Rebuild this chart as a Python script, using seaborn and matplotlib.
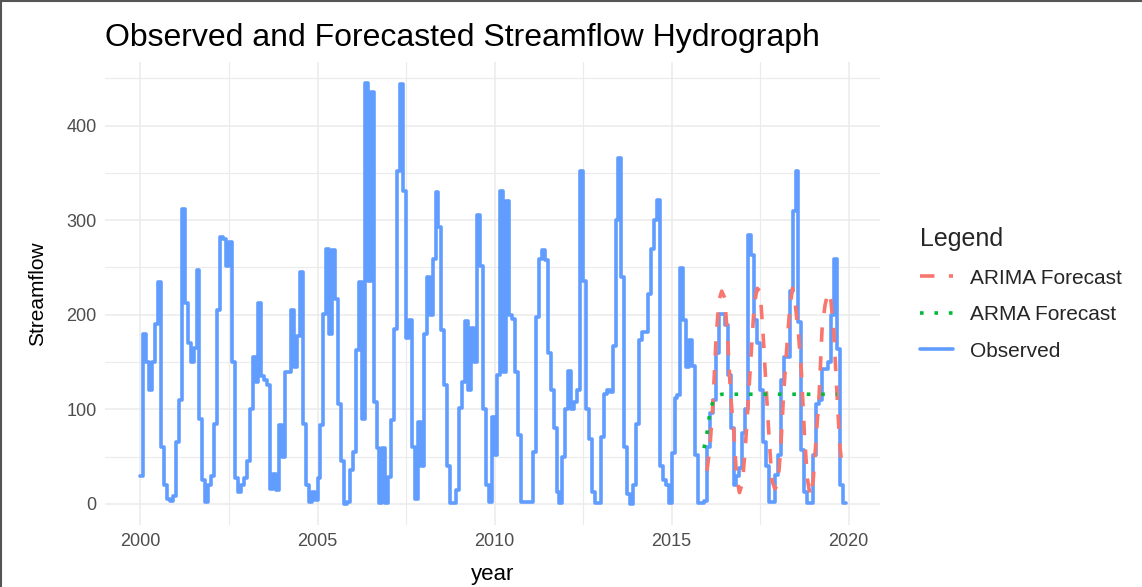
import numpy as np
import pandas as pd
import seaborn as sns
import matplotlib
matplotlib.use('Agg')
import matplotlib.pyplot as plt
from matplotlib.lines import Line2D
from matplotlib.ticker import MultipleLocator

# monthly observed streamflow, Jan 2000 .. Dec 2019
obs_2000 = [30, 180, 150, 120, 150, 190, 235, 60, 20, 5, 3, 8]
obs_2001 = [66, 110, 312, 212, 170, 150, 165, 247, 90, 25, 2, 20]
obs_2002 = [30, 85, 205, 282, 280, 252, 277, 150, 27, 13, 20, 27]
obs_2003 = [45, 100, 155, 129, 212, 135, 131, 126, 16, 32, 15, 83]
obs_2004 = [50, 140, 140, 205, 145, 178, 245, 85, 20, 2, 13, 4]
obs_2005 = [27, 83, 201, 270, 180, 268, 217, 106, 45, 0, 2, 36]
obs_2006 = [55, 163, 235, 90, 445, 236, 435, 108, 59, 1, 59, 1]
obs_2007 = [29, 89, 185, 352, 444, 331, 175, 194, 60, 5, 87, 40]
obs_2008 = [180, 240, 200, 259, 330, 293, 184, 126, 40, 1, 1, 15]
obs_2009 = [101, 129, 193, 120, 186, 150, 305, 252, 100, 20, 2, 92]
obs_2010 = [52, 136, 331, 140, 320, 200, 196, 140, 73, 2, 2, 2]
obs_2011 = [2, 55, 198, 259, 268, 258, 160, 120, 80, 13, 1, 50]
obs_2012 = [100, 141, 100, 108, 120, 352, 236, 100, 69, 13, 1, 1]
obs_2013 = [71, 116, 120, 118, 167, 300, 366, 240, 60, 11, 0, 20]
obs_2014 = [85, 173, 182, 182, 222, 270, 300, 321, 40, 25, 20, 1]
obs_2015 = [54, 112, 115, 249, 194, 145, 173, 146, 52, 1, 1, 3]
obs_2016 = [60, 96, 110, 160, 201, 201, 189, 136, 80, 20, 30, 38]
obs_2017 = [75, 100, 284, 263, 194, 170, 120, 66, 40, 2, 2, 31]
obs_2018 = [52, 131, 155, 155, 225, 310, 352, 192, 57, 13, 1, 1]
obs_2019 = [52, 106, 110, 143, 143, 150, 200, 259, 164, 20, 1, 1]

observed = (obs_2000 + obs_2001 + obs_2002 + obs_2003 + obs_2004 + obs_2005
            + obs_2006 + obs_2007 + obs_2008 + obs_2009 + obs_2010 + obs_2011
            + obs_2012 + obs_2013 + obs_2014 + obs_2015 + obs_2016 + obs_2017
            + obs_2018 + obs_2019)

# ARIMA forecast from Jan 2016
arima = [35, 60, 105, 170, 215, 225, 218, 175, 115, 80, 30, 12,
         22, 60, 110, 160, 210, 228, 225, 180, 125, 73, 25, 16,
         20, 59, 118, 163, 205, 228, 209, 180, 140, 75, 27, 8,
         25, 70, 115, 185, 210, 224, 215, 180, 120, 62, 35]
arima_start = 2016.0

# ARMA forecast from Dec 2015
arma = [59, 75, 97, 108, 113, 115, 116, 116, 116, 116, 116, 116,
        116, 116, 116, 116, 116, 116, 116, 116, 116, 116, 116, 116,
        116, 116, 116, 116, 116, 116, 116, 116, 116, 116, 116, 116,
        116, 116, 116, 116, 116, 116, 116, 116, 116, 116]
arma_start = 2015 + 11 / 12

df_obs = pd.DataFrame({'year': 2000 + np.arange(len(observed)) / 12, 'flow': observed})
df_arima = pd.DataFrame({'year': arima_start + np.arange(len(arima)) / 12, 'flow': arima})
df_arma = pd.DataFrame({'year': arma_start + np.arange(len(arma)) / 12, 'flow': arma})

c_obs = '#619CFF'
c_arima = '#F8766D'
c_arma = '#00BA38'
lw = 2.6

sns.set_theme(style='whitegrid')
plt.rcParams['font.family'] = ['Liberation Sans', 'DejaVu Sans']

fig = plt.figure(figsize=(11.42, 5.87), dpi=100)
ax = fig.add_axes([0.092, 0.106, 0.679, 0.788])

sns.lineplot(data=df_obs, x='year', y='flow', color=c_obs, linewidth=lw,
             drawstyle='steps-post', ax=ax)
sns.lineplot(data=df_arima, x='year', y='flow', color=c_arima, linewidth=lw,
             ax=ax).lines[-1].set_dashes((4, 4))
sns.lineplot(data=df_arma, x='year', y='flow', color=c_arma, linewidth=lw,
             ax=ax).lines[-1].set_dashes((1, 3))

ax.set_xlim(1999.0, 2020.9)
ax.set_ylim(-22, 467)
ax.xaxis.set_major_locator(MultipleLocator(5))
ax.xaxis.set_minor_locator(MultipleLocator(2.5))
ax.yaxis.set_major_locator(MultipleLocator(100))
ax.yaxis.set_minor_locator(MultipleLocator(50))
ax.grid(which='major', color='#EBEBEB', linewidth=1.1)
ax.grid(which='minor', color='#EBEBEB', linewidth=0.8)
ax.set_facecolor('white')
for s in ax.spines.values():
    s.set_visible(False)
ax.tick_params(axis='both', which='both', length=0, labelsize=13,
               labelcolor='#4D4D4D', pad=6)

ax.set_xlabel('year', fontsize=16, color='black', labelpad=10)
ax.set_ylabel('Streamflow', fontsize=15, color='black', labelpad=14)
ax.set_title('Observed and Forecasted Streamflow Hydrograph', fontsize=23,
             loc='left', x=0.0, pad=12, color='black')

handles = [
    Line2D([], [], color=c_arima, linewidth=lw, dashes=(4, 4)),
    Line2D([], [], color=c_arma, linewidth=lw, dashes=(1, 3)),
    Line2D([], [], color=c_obs, linewidth=lw),
]
labels = ['ARIMA Forecast', 'ARMA Forecast', 'Observed']
leg = fig.legend(handles, labels, title='Legend', loc='upper left',
                 bbox_to_anchor=(0.789, 0.645), frameon=False, fontsize=15,
                 title_fontsize=18, handlelength=1.6, labelspacing=0.84,
                 alignment='left')

# thin frame on top and left edge as in the screenshot
fig.add_artist(Line2D([0, 1], [0.999, 0.999], transform=fig.transFigure,
                      color='#555555', linewidth=1.5))
fig.add_artist(Line2D([0.001, 0.001], [0, 1], transform=fig.transFigure,
                      color='#555555', linewidth=1.5))

fig.savefig('out.png', dpi=100, facecolor='white')
